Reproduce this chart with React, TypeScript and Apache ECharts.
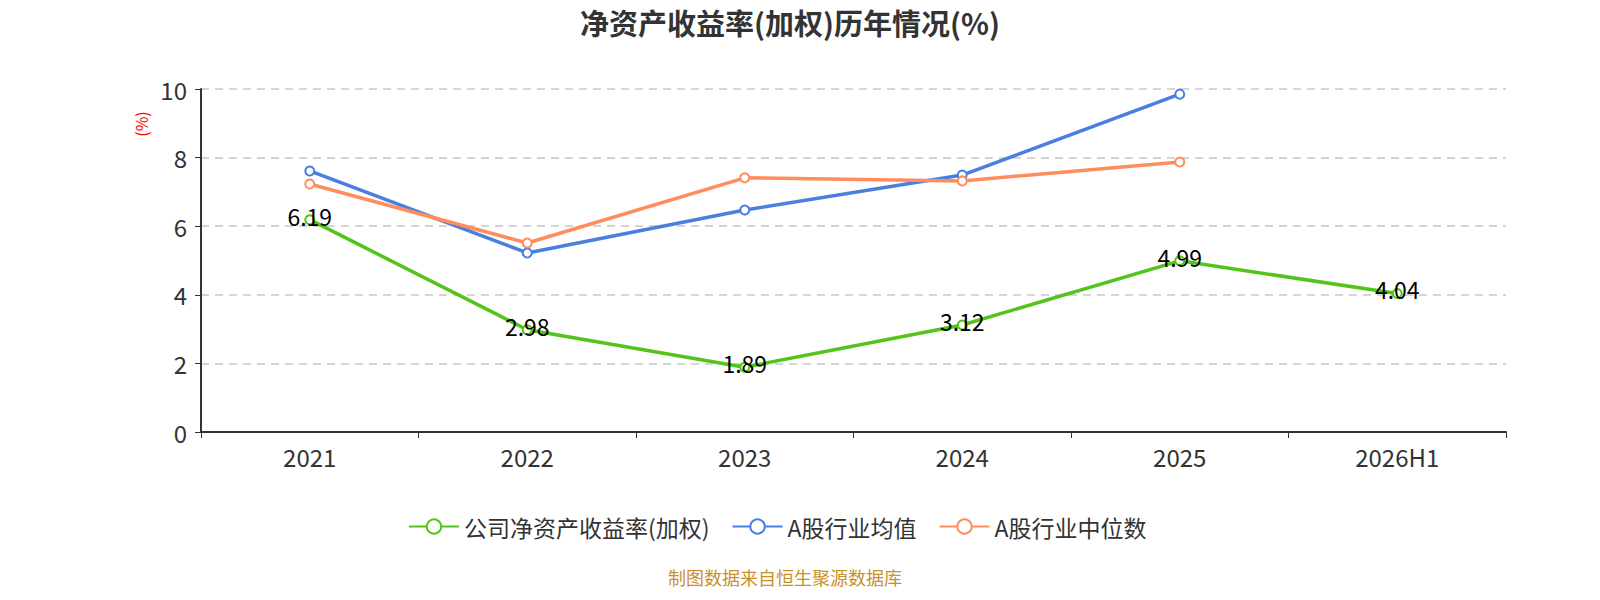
import React, { useEffect, useRef } from "react";
import * as echarts from "echarts";

const categories = ["2021", "2022", "2023", "2024", "2025", "2026H1"];
const companyRoe = [6.19, 2.98, 1.89, 3.12, 4.99, 4.04];
const industryMean = [7.61, 5.22, 6.47, 7.49, 9.85, null];
const industryMedian = [7.23, 5.51, 7.41, 7.32, 7.87, null];
const seriesNames = ["公司净资产收益率(加权)", "A股行业均值", "A股行业中位数"];

export default function App() {
  const ref = useRef<HTMLDivElement>(null);
  useEffect(() => {
    if (!ref.current) return;
    const chart = echarts.init(ref.current, null, { renderer: "svg" });
    const font = "'Noto Sans CJK SC', 'Noto Sans', sans-serif";
    chart.setOption({
      animation: false,
      textStyle: { fontFamily: font },
      title: {
        text: "净资产收益率(加权)历年情况(%)",
        left: 785,
        textAlign: "center",
        top: 2,
        textStyle: { fontSize: 29, fontWeight: "bold", color: "#333", fontFamily: font },
      },
      legend: {
        left: 403,
        top: 510,
        itemWidth: 50,
        itemHeight: 18,
        itemGap: 22,
        textStyle: { fontSize: 23, color: "#333", fontFamily: font },
        data: seriesNames,
      },
      grid: { left: 201, right: 94, top: 89, bottom: 168 },
      xAxis: {
        type: "category",
        data: categories,
        boundaryGap: true,
        axisLine: { lineStyle: { color: "#333", width: 2 } },
        axisTick: { show: true, alignWithLabel: false, length: 6, lineStyle: { color: "#333" } },
        axisLabel: { fontSize: 24, color: "#333", margin: 12, fontFamily: font },
      },
      yAxis: {
        type: "value",
        min: 0,
        max: 10,
        interval: 2,
        axisLine: { show: true, lineStyle: { color: "#333", width: 2 } },
        axisTick: { show: true, length: 6, lineStyle: { color: "#333" } },
        axisLabel: { fontSize: 24, color: "#333", margin: 14, fontFamily: font },
        splitLine: { show: true, lineStyle: { color: "#c8c8c8", type: [8, 6], width: 1.5 } },
      },
      graphic: [
        {
          type: "text",
          x: 141,
          y: 124,
          rotation: Math.PI / 2,
          style: { text: "(%)", fill: "#ff0000", font: `16px ${font}`, align: "center", verticalAlign: "middle" },
          silent: true,
        },
        {
          type: "text",
          x: 785,
          y: 577,
          style: {
            text: "制图数据来自恒生聚源数据库",
            fill: "#c8922a",
            font: `18px ${font}`,
            align: "center",
            verticalAlign: "middle",
          },
        },
      ],
      series: [
        {
          name: seriesNames[0],
          type: "line",
          data: companyRoe,
          symbol: "emptyCircle",
          symbolSize: 9,
          lineStyle: { width: 3.5, color: "#52c41a" },
          itemStyle: { color: "#52c41a" },
          label: { show: true, position: "inside", offset: [0, -4], fontSize: 23, color: "#000", fontFamily: font },
          z: 3,
        },
        {
          name: seriesNames[1],
          type: "line",
          data: industryMean,
          symbol: "emptyCircle",
          symbolSize: 9,
          lineStyle: { width: 3.5, color: "#4a7fe0" },
          itemStyle: { color: "#4a7fe0" },
        },
        {
          name: seriesNames[2],
          type: "line",
          data: industryMedian,
          symbol: "emptyCircle",
          symbolSize: 9,
          lineStyle: { width: 3.5, color: "#ff8c5a" },
          itemStyle: { color: "#ff8c5a" },
        },
      ],
    });
    return () => chart.dispose();
  }, []);
  return (
    <div
      ref={ref}
      style={{ position: "fixed", left: 0, top: 0, width: 1600, height: 600, background: "#fff" }}
    />
  );
}
